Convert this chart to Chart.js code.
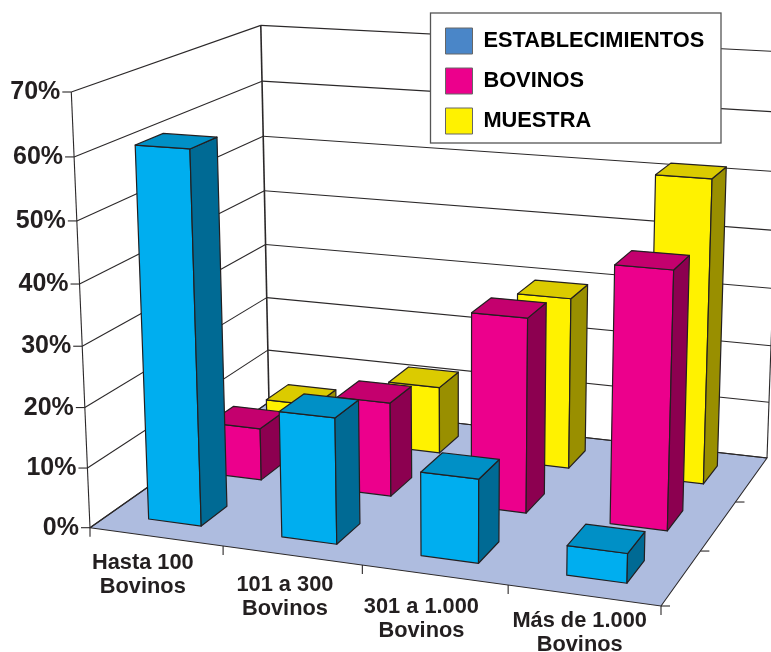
<!DOCTYPE html>
<html>
<head>
<meta charset="utf-8">
<title>Establecimientos, bovinos y muestra</title>
<script src="https://cdn.jsdelivr.net/npm/chart.js@4/dist/chart.umd.min.js"></script>
<style>
    html, body { margin: 0; padding: 0; background: #fff; }
    #wrap { width: 771px; height: 652px; overflow: hidden; }
</style>
</head>
<body>
<div id="wrap"><canvas id="chart" width="771" height="652"></canvas></div>
<script>
// ---- Data ----
const categories = [['Hasta 100', 'Bovinos'], ['101 a 300', 'Bovinos'], ['301 a 1.000', 'Bovinos'], ['Más de 1.000', 'Bovinos']];
const seriesNames = ['ESTABLECIMIENTOS', 'BOVINOS', 'MUESTRA'];
const establecimientos = [61, 20.6, 13.5, 4.7];
const bovinos = [9, 16, 32.5, 42.3];
const muestra = [6.1, 11.8, 29.7, 51.7];
const yMax = 70;
const yStep = 10;

// ---- Colours ----
const INK = '#231F20';
const FLOOR = '#AEBCDF';
const FACES = [
    { front: '#00AEEF', side: '#006A94', top: '#0090C6' },
    { front: '#EC008C', side: '#8C0050', top: '#C4006E' },
    { front: '#FFF200', side: '#998F00', top: '#DBCB00' },
];
const LEGEND_COLORS = ['#4A86C8', '#EC008C', '#FFF200'];

// ---- Perspective frame: floor corners, upper front corner, x where the uprights converge ----
const FRONT_LEFT = [90, 527.7], FRONT_RIGHT = [661, 606], BACK_RIGHT = [767, 458], BACK_LEFT = [269, 402];
const TOP_FRONT_LEFT = [71.3, 92];
const UPRIGHT_VANISH_X = 459;
const ROWS = seriesNames.length;
const BAR_WIDTH = 0.4, BAR_DEPTH = 0.415, ROW_PAD = 0.29;

// square to quad homography for the floor, plus a column for height
const P = (function () {
    const [x0, y0] = FRONT_LEFT, [x1, y1] = FRONT_RIGHT, [x2, y2] = BACK_RIGHT, [x3, y3] = BACK_LEFT;
    const sx = x0 - x1 + x2 - x3, sy = y0 - y1 + y2 - y3;
    const dx1 = x1 - x2, dx2 = x3 - x2, dy1 = y1 - y2, dy2 = y3 - y2;
    const den = dx1 * dy2 - dx2 * dy1;
    const g = (sx * dy2 - dx2 * sy) / den, h = (dx1 * sy - sx * dy1) / den;
    const a = x1 - x0 + g * x1, b = x3 - x0 + h * x3, d = y1 - y0 + g * y1, e = y3 - y0 + h * y3;
    const [ax, ay] = TOP_FRONT_LEFT;
    const cw = (ax - x0) / (UPRIGHT_VANISH_X - ax);
    return { a, b, c: x0, d, e, f: y0, g, h, cx: cw * UPRIGHT_VANISH_X, cy: ay - y0 + ay * cw, cw };
})();

function project(u, v, t) {
    const w = P.g * u + P.h * v + 1 + t * P.cw;
    return [(P.a * u + P.b * v + P.c + t * P.cx) / w, (P.d * u + P.e * v + P.f + t * P.cy) / w];
}

function poly(ctx, pts, fill) {
    ctx.beginPath();
    pts.forEach((p, i) => i ? ctx.lineTo(p[0], p[1]) : ctx.moveTo(p[0], p[1]));
    ctx.closePath();
    if (fill) { ctx.fillStyle = fill; ctx.fill(); }
    ctx.stroke();
}

function seg(ctx, a, b) {
    ctx.beginPath();
    ctx.moveTo(a[0], a[1]);
    ctx.lineTo(b[0], b[1]);
    ctx.stroke();
}

const heightOf = (y, value) => (y.bottom - y.getPixelForValue(value)) / (y.bottom - y.top);
const acrossOf = (x, index) => (x.getPixelForValue(index) - x.left) / (x.right - x.left);

// ---- Bars as boxes, values go through the chart's own scales ----
class Bar3DController extends Chart.BarController {
    static id = 'bar3d';
    static defaults = Chart.BarController.defaults;

    draw() {
        const { ctx, scales } = this.chart;
        const row = this.index;
        const faces = FACES[row];
        const cell = 1 / scales.x.getLabels().length;
        const v0 = (row + ROW_PAD) / ROWS, v1 = (row + ROW_PAD + BAR_DEPTH) / ROWS;

        ctx.save();
        ctx.strokeStyle = INK;
        ctx.lineWidth = 1.2;
        ctx.lineJoin = 'round';
        this.getDataset().data.forEach((value, i) => {
            const mid = acrossOf(scales.x, i);
            const u0 = mid - cell * BAR_WIDTH / 2, u1 = mid + cell * BAR_WIDTH / 2;
            const t = heightOf(scales.y, value);
            poly(ctx, [project(u0, v0, 0), project(u1, v0, 0), project(u1, v0, t), project(u0, v0, t)], faces.front);
            poly(ctx, [project(u1, v0, 0), project(u1, v1, 0), project(u1, v1, t), project(u1, v0, t)], faces.side);
            poly(ctx, [project(u0, v0, t), project(u1, v0, t), project(u1, v1, t), project(u0, v1, t)], faces.top);
        });
        ctx.restore();
    }
}
Chart.register(Bar3DController);

// ---- Walls, floor, ticks and axis labels ----
const CAT_NUDGE_X = [-13, -7, -13, -4];
const CAT_NUDGE_Y = [32, 36, 38, 32];

const framePlugin = {
    id: 'frame',
    afterLayout(chart) {
        // legend sits inside its box, top right
        chart.legend.left = 431.5;
        chart.legend.top = 14;
    },
    beforeDraw(chart) {
        const { ctx, scales } = chart;
        const { x, y } = scales;
        ctx.save();
        ctx.fillStyle = '#fff';
        ctx.fillRect(0, 0, chart.width, chart.height);
        ctx.strokeStyle = '#2b2829';
        ctx.lineWidth = 1.1;

        // floor
        poly(ctx, [project(0, 0, 0), project(1, 0, 0), project(1, 1, 0), project(0, 1, 0)], FLOOR);

        // wall grid lines and value labels
        ctx.font = 'bold 25px "Liberation Sans", Arial, sans-serif';
        ctx.textAlign = 'right';
        ctx.textBaseline = 'alphabetic';
        y.ticks.forEach(tick => {
            const t = heightOf(y, tick.value);
            const front = project(0, 0, t);
            seg(ctx, front, project(0, 1, t));
            seg(ctx, project(0, 1, t), project(1, 1, t));
            seg(ctx, front, [front[0] - 9, front[1]]);
            ctx.fillStyle = INK;
            ctx.fillText(tick.label, front[0] - 11, front[1] + 7);
        });

        // wall uprights
        const top = heightOf(y, yMax);
        seg(ctx, project(0, 0, 0), project(0, 0, top));
        ctx.lineWidth = 1.6;
        seg(ctx, project(0, 1, 0), project(0, 1, top));
        ctx.lineWidth = 1.1;
        seg(ctx, project(1, 1, 0), project(1, 1, top));

        // ticks under the front edge and along the right edge
        const n = x.getLabels().length;
        for (let i = 0; i <= n; i++) {
            const p = project(i / n, 0, 0);
            seg(ctx, p, [p[0], p[1] + 9]);
        }
        for (let r = 0; r < ROWS; r++) {
            const p = project(1, r / ROWS, 0);
            seg(ctx, p, [p[0] + 9, p[1]]);
        }

        // category labels
        ctx.font = 'bold 21.8px "Liberation Sans", Arial, sans-serif';
        ctx.textAlign = 'center';
        ctx.fillStyle = INK;
        x.getLabels().forEach((lines, i) => {
            const p = project(acrossOf(x, i), 0, 0);
            const lx = p[0] + CAT_NUDGE_X[i], ly = p[1] + CAT_NUDGE_Y[i];
            lines.forEach((line, k) => ctx.fillText(line, lx, ly + k * 24));
        });

        // legend box
        ctx.strokeStyle = '#555';
        ctx.lineWidth = 1.3;
        ctx.fillStyle = '#fff';
        ctx.fillRect(430.5, 13, 290.5, 130);
        ctx.strokeRect(430.5, 13, 290.5, 130);
        ctx.restore();
    },
};

new Chart(document.getElementById('chart'), {
    type: 'bar3d',
    data: {
        labels: categories,
        datasets: [
            { label: seriesNames[0], data: establecimientos },
            { label: seriesNames[1], data: bovinos },
            { label: seriesNames[2], data: muestra },
        ],
    },
    options: {
        responsive: false,
        animation: false,
        events: [],
        layout: { padding: 0 },
        scales: {
            x: { type: 'category', display: false, offset: true },
            y: {
                type: 'linear',
                display: false,
                min: 0,
                max: yMax,
                ticks: { stepSize: yStep, callback: v => v + '%' },
            },
        },
        plugins: {
            tooltip: { enabled: false },
            legend: {
                position: 'chartArea',
                align: 'start',
                labels: {
                    boxWidth: 27,
                    boxHeight: 26,
                    padding: 14,
                    color: INK,
                    font: { family: '"Liberation Sans", Arial, sans-serif', size: 21.8, weight: 'bold' },
                    generateLabels: chart => chart.data.datasets.map((ds, i) => ({
                        text: ds.label,
                        fillStyle: LEGEND_COLORS[i],
                        strokeStyle: '#666',
                        lineWidth: 1,
                        datasetIndex: i,
                    })),
                },
            },
        },
    },
    plugins: [framePlugin],
});
</script>
</body>
</html>
